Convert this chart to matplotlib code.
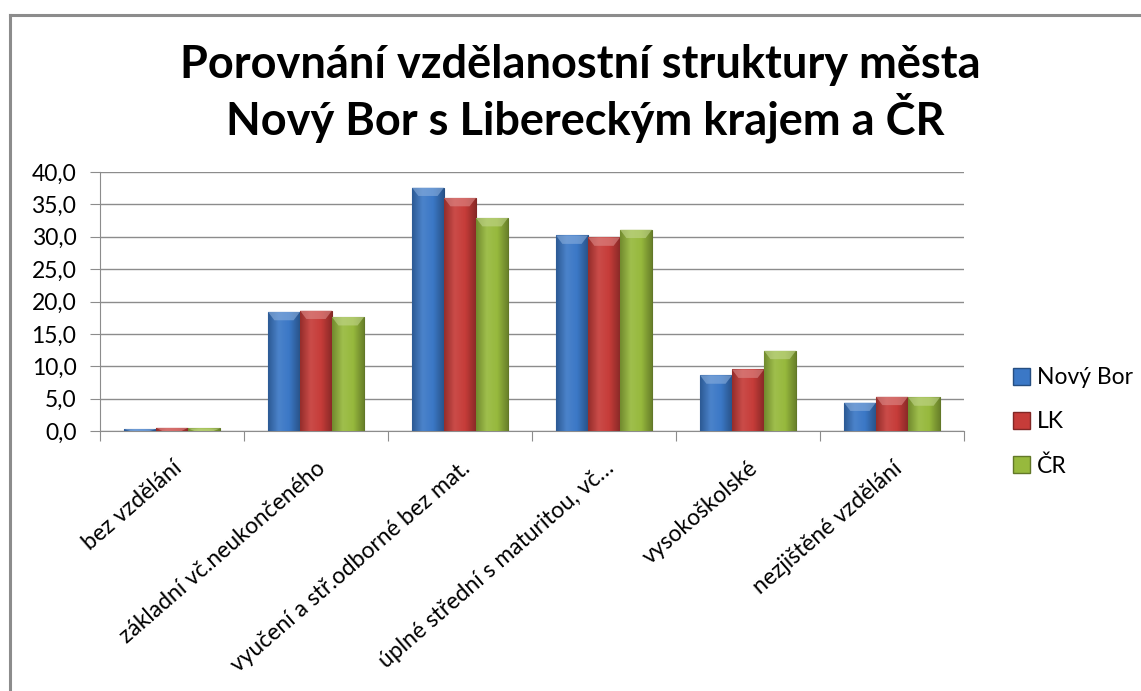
import matplotlib
matplotlib.use("Agg")
import matplotlib.pyplot as plt
import numpy as np
from matplotlib.colors import LinearSegmentedColormap, to_rgb
from matplotlib.patches import Rectangle
from matplotlib.lines import Line2D

plt.rcParams['font.family'] = ['Lato', 'DejaVu Sans']

categories = ["bez vzdělání", "základní vč.neukončeného", "vyučení a stř.odborné bez mat.",
              "úplné střední s maturitou, vč…", "vysokoškolské", "nezjištěné vzdělání"]
series_names = ["Nový Bor", "LK", "ČR"]
novy_bor = [0.3, 18.4, 37.6, 30.2, 8.6, 4.4]
lk = [0.5, 18.6, 36.0, 29.9, 9.5, 5.3]
cr = [0.4, 17.6, 32.9, 31.1, 12.4, 5.2]
series_values = [novy_bor, lk, cr]
colors = ["#3b78c6", "#c63c39", "#97b93d"]
yticks = [0, 5, 10, 15, 20, 25, 30, 35, 40]
ytick_labels = ["0,0", "5,0", "10,0", "15,0", "20,0", "25,0", "30,0", "35,0", "40,0"]

fig = plt.figure(figsize=(11.41, 6.91), dpi=100)
fig.patch.set_facecolor("white")

# outer frame lines (left and top)
fig.add_artist(Line2D([10/1141, 10/1141], [0, 1 - 15/691], color="#8c8c8c", lw=2.2, transform=fig.transFigure))
fig.add_artist(Line2D([10/1141, 1], [1 - 15/691, 1 - 15/691], color="#8c8c8c", lw=2.2, transform=fig.transFigure))

ax = fig.add_axes([100/1141, 1 - 431/691, 864/1141, 259/691])
n = len(categories)
x = np.arange(n)
bw = 2/9

def shade(c, f):
    r = np.array(to_rgb(c))
    if f >= 0:
        return tuple(r + (1 - r) * f)
    return tuple(r * (1 + f))

for i, (vals, col) in enumerate(zip(series_values, colors)):
    bars = ax.bar(x + (i - 1) * bw, vals, width=bw, color=col, edgecolor=shade(col, -0.35),
                  linewidth=0.8, zorder=3)
    cmap = LinearSegmentedColormap.from_list("g", [shade(col, -0.25), shade(col, 0.08), col, shade(col, -0.3)])
    grad = np.linspace(0, 1, 64).reshape(1, -1)
    for b in bars:
        bx, by, w, h = b.get_x(), b.get_y(), b.get_width(), b.get_height()
        im = ax.imshow(grad, cmap=cmap, aspect="auto", extent=[bx, bx + w, by, by + h],
                       zorder=3.5, interpolation="bicubic")
        im.set_clip_path(b)
        th = min(h, 1.3)
        top = plt.Polygon([(bx, by + h), (bx + w, by + h), (bx + w * 0.8, by + h - th),
                           (bx + w * 0.2, by + h - th)], closed=True,
                          facecolor=shade(col, 0.4), edgecolor="none", alpha=0.6, zorder=3.6)
        ax.add_patch(top)

ax.set_xlim(-0.5, n - 0.5)
ax.set_ylim(0, 40)
ax.set_yticks(yticks)
ax.set_yticklabels(ytick_labels, fontsize=16.5)
ax.yaxis.grid(True, color="#8c8c8c", linewidth=1.0, zorder=0)
ax.set_axisbelow(True)
ax.set_xticks(np.arange(n + 1) - 0.5, minor=False)
ax.set_xticklabels([])
ax.set_xticks(x, minor=True)
ax.set_xticklabels(categories, minor=True, rotation=41, ha="right", va="top",
                   rotation_mode="anchor", fontsize=16.5)
ax.tick_params(axis="x", which="minor", length=0, pad=19)
ax.tick_params(axis="x", which="major", length=7, color="#8c8c8c")
ax.tick_params(axis="y", length=7, color="#8c8c8c", pad=10)
for s in ["top", "right"]:
    ax.spines[s].set_visible(False)
ax.spines["left"].set_color("#8c8c8c")
ax.spines["bottom"].set_color("#8c8c8c")

fig.text(0.5 + 10/1141, 1 - 65/691, "Porovnání vzdělanostní struktury města", ha="center", va="center",
         fontsize=32.5, fontweight="bold")
fig.text(0.5 + 15/1141, 1 - 118/691, "Nový Bor s Libereckým krajem a ČR", ha="center", va="center",
         fontsize=32.5, fontweight="bold")

handles = [Rectangle((0, 0), 1, 1, facecolor=c, edgecolor=shade(c, -0.35)) for c in colors]
fig.legend(handles, series_names, loc="center left", bbox_to_anchor=(1004/1141, 1 - 422/691),
           frameon=False, fontsize=16.5, handlelength=0.75, handleheight=0.75, handletextpad=0.3,
           labelspacing=1.0, borderaxespad=0)

fig.savefig("out.png", dpi=100, facecolor="white")
